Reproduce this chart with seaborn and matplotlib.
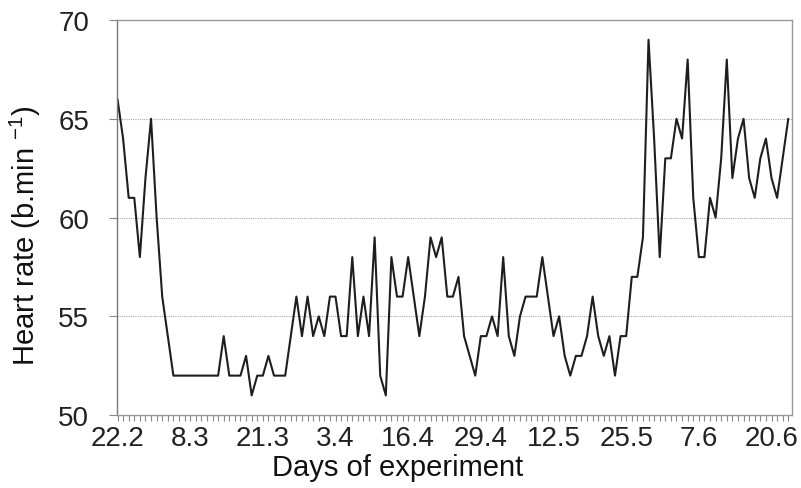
import numpy as np
import pandas as pd
import matplotlib
matplotlib.use("Agg")
import matplotlib.pyplot as plt
import seaborn as sns

# daily mean heart rate (one value per day from 22.2)
heart_rate = [66, 64, 61, 61, 58, 62, 65, 60, 56, 54,
              52, 52, 52, 52, 52, 52, 52, 52, 52, 54,
              52, 52, 52, 53, 51, 52, 52, 53, 52, 52,
              52, 54, 56, 54, 56, 54, 55, 54, 56, 56,
              54, 54, 58, 54, 56, 54, 59, 52, 51, 58,
              56, 56, 58, 56, 54, 56, 59, 58, 59, 56,
              56, 57, 54, 53, 52, 54, 54, 55, 54, 58,
              54, 53, 55, 56, 56, 56, 58, 56, 54, 55,
              53, 52, 53, 53, 54, 56, 54, 53, 54, 52,
              54, 54, 57, 57, 59, 69, 64, 58, 63, 63,
              65, 64, 68, 61, 58, 58, 61, 60, 63, 68,
              62, 64, 65, 62, 61, 63, 64, 62, 61, 63,
              65]
days = list(range(len(heart_rate)))

tick_days = [0, 13, 26, 39, 52, 65, 78, 91, 104, 117]
tick_labels = ["22.2", "8.3", "21.3", "3.4", "16.4", "29.4", "12.5", "25.5", "7.6", "20.6"]
y_ticks = [50, 55, 60, 65, 70]

df = pd.DataFrame({"day": days, "hr": heart_rate})

sns.set_style("ticks")
plt.rcParams['font.family'] = ['Liberation Sans', 'DejaVu Sans']
plt.rcParams['mathtext.fontset'] = 'custom'
plt.rcParams['mathtext.rm'] = 'Liberation Sans'

fig = plt.figure(figsize=(8.01, 4.89), dpi=100)
ax = fig.add_axes([0.146, 0.149, 0.843, 0.808])

# dotted horizontal guides
for v in [55, 60, 65]:
    ax.axhline(v, color="#a8a8a8", lw=0.8, ls=(0, (1, 1)), zorder=0)

sns.lineplot(data=df, x="day", y="hr", color="#1e1e1e", lw=1.5, ax=ax)

ax.set_xlim(-0.1, 120.7)
ax.set_ylim(50, 70)
ax.set_yticks(y_ticks)
ax.set_xticks(tick_days)
ax.set_xticklabels(tick_labels)
ax.set_xticks(days, minor=True)

ax.tick_params(axis="x", which="both", direction="out", length=4, width=0.8,
               color="#888888", labelsize=20, pad=3, labelcolor="#222222")
ax.tick_params(axis="y", direction="out", length=6, width=0.8, color="#888888",
               labelsize=20, pad=14, labelcolor="#222222")

for s in ax.spines.values():
    s.set_color("#999999")
    s.set_linewidth(1.0)
ax.spines["left"].set_color("#777777")

ax.set_xlabel("Days of experiment", fontsize=21, color="#111111")
ax.set_ylabel(r"Heart rate (b.min $\mathregular{^{-1}}$)", fontsize=21,
              color="#111111")
ax.xaxis.set_label_coords(0.416, -0.097)
ax.yaxis.set_label_coords(-0.11, 0.458)

plt.savefig("out.png", dpi=100)
